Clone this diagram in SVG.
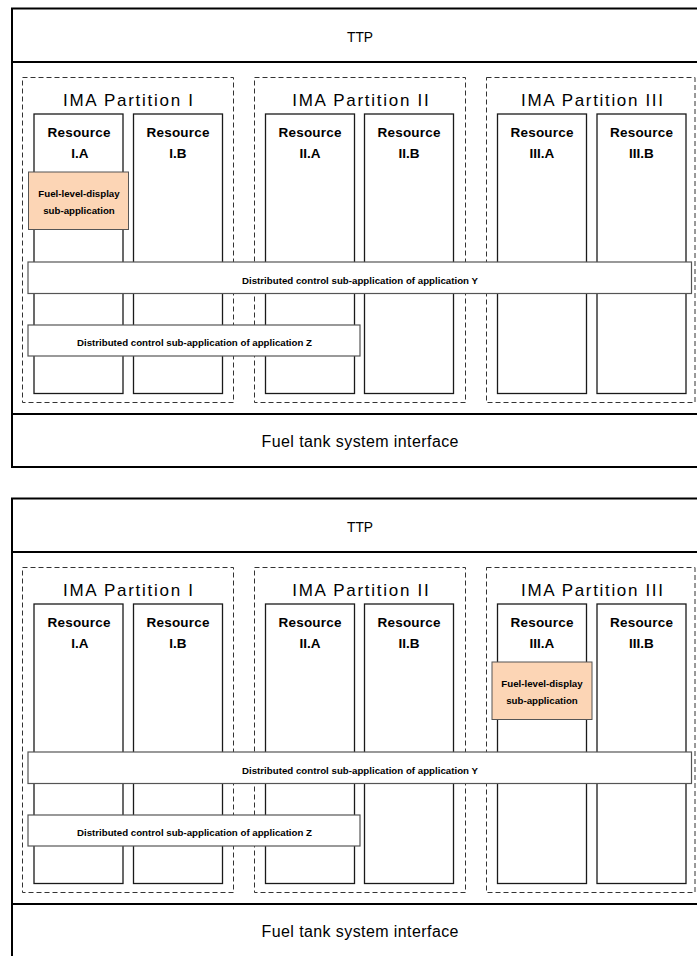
<svg xmlns="http://www.w3.org/2000/svg" width="697" height="956" viewBox="0 0 697 956">
<style>
.frame{fill:#fff;stroke:#000;stroke-width:2}
.sep{stroke:#000;stroke-width:2}
.part{fill:none;stroke:#333;stroke-width:1;stroke-dasharray:5 3}
.res{fill:#fff;stroke:#1a1a1a;stroke-width:1.3}
.fuel{fill:#fcd5b5;stroke:#555;stroke-width:1}
.bar{fill:#fff;stroke:#555;stroke-width:1.2}
.big{font-family:"Liberation Sans",Arial,sans-serif;font-size:16px;fill:#000;text-anchor:middle}
.ttp{font-family:"Liberation Sans",Arial,sans-serif;font-size:14.5px;fill:#000;text-anchor:middle}
.title{font-family:"Liberation Sans",Arial,sans-serif;font-size:17px;fill:#000;text-anchor:middle}
.rt{font-family:"Liberation Sans",Arial,sans-serif;font-size:13.5px;font-weight:bold;fill:#000;text-anchor:middle}
.sm{font-family:"Liberation Sans",Arial,sans-serif;font-size:9.7px;font-weight:bold;fill:#000;text-anchor:middle}
</style>
<g id="connectors"/>
<g id="diagram-top">
  <g id="t-frame">
    <rect class="frame" x="12" y="8.5" width="700" height="458.5"/>
    <line class="sep" x1="12" y1="62" x2="712" y2="62"/>
    <line class="sep" x1="12" y1="414" x2="712" y2="414"/>
  </g>
  <g id="t-ttp"><text class="ttp" x="360" y="41.5" textLength="26" lengthAdjust="spacingAndGlyphs">TTP</text></g>
  <g id="t-partition-1">
    <rect class="part" x="22.5" y="77.5" width="211" height="325"/>
    <text class="title" x="128" y="106" textLength="130">IMA Partition I</text>
  </g>
  <g id="t-partition-2">
    <rect class="part" x="254.5" y="77.5" width="211" height="325"/>
    <text class="title" x="360.5" y="106" textLength="136.5">IMA Partition II</text>
  </g>
  <g id="t-partition-3">
    <rect class="part" x="486.5" y="77.5" width="208.5" height="325"/>
    <text class="title" x="592" y="106" textLength="142">IMA Partition III</text>
  </g>
  <g id="t-res-1a"><rect class="res" x="34" y="114" width="89" height="279.5"/><text class="rt" x="79" y="137" textLength="63">Resource</text><text class="rt" x="80" y="157.5">I.A</text></g>
  <g id="t-res-1b"><rect class="res" x="133.5" y="114" width="89" height="279.5"/><text class="rt" x="178" y="137" textLength="63">Resource</text><text class="rt" x="178" y="157.5">I.B</text></g>
  <g id="t-res-2a"><rect class="res" x="265.5" y="114" width="89" height="279.5"/><text class="rt" x="310" y="137" textLength="63">Resource</text><text class="rt" x="310" y="157.5">II.A</text></g>
  <g id="t-res-2b"><rect class="res" x="364.5" y="114" width="89" height="279.5"/><text class="rt" x="409" y="137" textLength="63">Resource</text><text class="rt" x="409" y="157.5">II.B</text></g>
  <g id="t-res-3a"><rect class="res" x="497.5" y="114" width="89" height="279.5"/><text class="rt" x="542" y="137" textLength="63">Resource</text><text class="rt" x="542" y="157.5">III.A</text></g>
  <g id="t-res-3b"><rect class="res" x="597" y="114" width="89" height="279.5"/><text class="rt" x="641.5" y="137" textLength="63">Resource</text><text class="rt" x="641.5" y="157.5">III.B</text></g>
  <g id="t-fuel-display">
    <rect class="fuel" x="28.5" y="172" width="100" height="57.5"/>
    <text class="sm" x="79" y="197">Fuel-level-display</text>
    <text class="sm" x="79" y="213.5">sub-application</text>
  </g>
  <g id="t-app-y">
    <rect class="bar" x="28" y="262" width="663.5" height="31.5"/>
    <text class="sm" x="360" y="283.5" textLength="236">Distributed control sub-application of application Y</text>
  </g>
  <g id="t-app-z">
    <rect class="bar" x="28" y="325" width="332" height="31"/>
    <text class="sm" x="194.5" y="346" textLength="235">Distributed control sub-application of application Z</text>
  </g>
  <g id="t-interface"><text class="big" x="360" y="446.5" textLength="197">Fuel tank system interface</text></g>
</g>
<g id="diagram-bottom" transform="translate(0,490)">
  <g id="b-frame">
    <rect class="frame" x="12" y="8.5" width="700" height="470"/>
    <line class="sep" x1="12" y1="62" x2="712" y2="62"/>
    <line class="sep" x1="12" y1="414" x2="712" y2="414"/>
  </g>
  <g id="b-ttp"><text class="ttp" x="360" y="41.5" textLength="26" lengthAdjust="spacingAndGlyphs">TTP</text></g>
  <g id="b-partition-1">
    <rect class="part" x="22.5" y="77.5" width="211" height="325"/>
    <text class="title" x="128" y="106" textLength="130">IMA Partition I</text>
  </g>
  <g id="b-partition-2">
    <rect class="part" x="254.5" y="77.5" width="211" height="325"/>
    <text class="title" x="360.5" y="106" textLength="136.5">IMA Partition II</text>
  </g>
  <g id="b-partition-3">
    <rect class="part" x="486.5" y="77.5" width="208.5" height="325"/>
    <text class="title" x="592" y="106" textLength="142">IMA Partition III</text>
  </g>
  <g id="b-res-1a"><rect class="res" x="34" y="114" width="89" height="279.5"/><text class="rt" x="79" y="137" textLength="63">Resource</text><text class="rt" x="80" y="157.5">I.A</text></g>
  <g id="b-res-1b"><rect class="res" x="133.5" y="114" width="89" height="279.5"/><text class="rt" x="178" y="137" textLength="63">Resource</text><text class="rt" x="178" y="157.5">I.B</text></g>
  <g id="b-res-2a"><rect class="res" x="265.5" y="114" width="89" height="279.5"/><text class="rt" x="310" y="137" textLength="63">Resource</text><text class="rt" x="310" y="157.5">II.A</text></g>
  <g id="b-res-2b"><rect class="res" x="364.5" y="114" width="89" height="279.5"/><text class="rt" x="409" y="137" textLength="63">Resource</text><text class="rt" x="409" y="157.5">II.B</text></g>
  <g id="b-res-3a"><rect class="res" x="497.5" y="114" width="89" height="279.5"/><text class="rt" x="542" y="137" textLength="63">Resource</text><text class="rt" x="542" y="157.5">III.A</text></g>
  <g id="b-res-3b"><rect class="res" x="597" y="114" width="89" height="279.5"/><text class="rt" x="641.5" y="137" textLength="63">Resource</text><text class="rt" x="641.5" y="157.5">III.B</text></g>
  <g id="b-fuel-display">
    <rect class="fuel" x="492" y="172" width="100" height="57.5"/>
    <text class="sm" x="542" y="197">Fuel-level-display</text>
    <text class="sm" x="542" y="213.5">sub-application</text>
  </g>
  <g id="b-app-y">
    <rect class="bar" x="28" y="262" width="663.5" height="31.5"/>
    <text class="sm" x="360" y="283.5" textLength="236">Distributed control sub-application of application Y</text>
  </g>
  <g id="b-app-z">
    <rect class="bar" x="28" y="325" width="332" height="31"/>
    <text class="sm" x="194.5" y="346" textLength="235">Distributed control sub-application of application Z</text>
  </g>
  <g id="b-interface"><text class="big" x="360" y="446.5" textLength="197">Fuel tank system interface</text></g>
</g>
</svg>
